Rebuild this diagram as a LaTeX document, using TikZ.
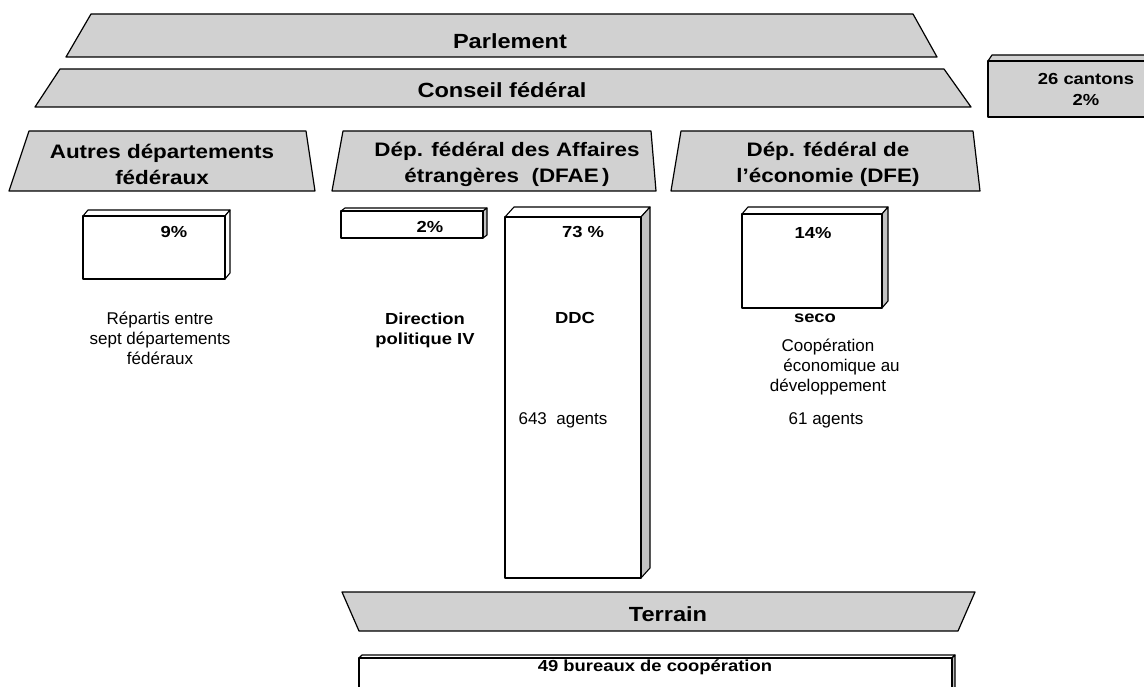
\documentclass[tikz,border=0pt]{standalone}
\usepackage{fontspec}
\setmainfont{Liberation Sans}
\newfontfamily\widefont{Liberation Sans}[FakeStretch=1.15]
\usetikzlibrary{positioning}
\definecolor{panel}{gray}{0.82}
\definecolor{side}{gray}{0.76}
\tikzset{
  band/.style={draw=black, fill=panel, line width=1.2pt, line join=round},
  face/.style={draw=black, fill=white, line width=1.1pt, line join=round},
  sideface/.style={draw=black, fill=side, line width=1.1pt, line join=round},
  bandtxt/.style={font=\widefont\bfseries\fontsize{20.5}{25}\selectfont, align=center},
  depttxt/.style={font=\widefont\bfseries\fontsize{19.5}{26}\selectfont, align=center},
  pcttxt/.style={font=\widefont\bfseries\fontsize{16}{20}\selectfont, align=center},
  bodytxt/.style={font=\fontsize{17}{20}\selectfont, align=center}
}

\begin{document}
\begin{tikzpicture}[x=1pt, y=-1pt]
      \useasboundingbox (0,0) rectangle (1144,687);
      \clip (0,0) rectangle (1144,687);
      % bands
      \draw[band] (91,14) -- (913,14) -- (937,57) -- (66,57) -- cycle;
      \node[bandtxt] (parl) at (510,41) {Parlement};
      \draw[band] (60,69) -- (944,69) -- (971,107) -- (35,107) -- cycle;
      \node[bandtxt] (cf) at (502,90) {Conseil fédéral};
      % cantons
      \draw[band] (988,61) -- (992,55) -- (1150,55) -- (1150,61) -- cycle;
      \draw[band] (988,61) rectangle (1150,117);
      \node[pcttxt, font=\widefont\bfseries\fontsize{16}{21}\selectfont] (cantons) at (1086,89) {26 cantons\\2\%};
      % departements
      \draw[band] (29,131) -- (306,131) -- (315,191) -- (9,191) -- cycle;
      \node[depttxt] (autres) at (162,164) {Autres départements\\fédéraux};
      \draw[band] (343,131) -- (651,131) -- (656,191) -- (332,191) -- cycle;
      \node[depttxt] (dfae) at (507,164) {Dép. fédéral des Affaires\\étrangères\ \ (DFAE\,)};
      \draw[band] (681,131) -- (973,131) -- (980,191) -- (671,191) -- cycle;
      \node[depttxt] (dfe) at (828,164) {Dép. fédéral de\\l’économie (DFE)};
      % boxes
      \draw[face] (83,216) -- (88,210) -- (230,210) -- (225,216) -- cycle;
      \draw[face] (225,216) -- (230,210) -- (230,273) -- (225,279) -- cycle;
      \draw[face] (83,216) rectangle (225,279);
      \node[pcttxt] (p9) at (174,232) {9\%};
      \draw[face] (341,211) -- (345,208) -- (487,208) -- (483,211) -- cycle;
      \draw[sideface] (483,211) -- (487,208) -- (487,235) -- (483,238) -- cycle;
      \draw[face] (341,211) rectangle (483,238);
      \node[pcttxt] (p2) at (430,227) {2\%};
      \draw[face] (505,217) -- (514,207) -- (650,207) -- (641,217) -- cycle;
      \draw[sideface] (641,217) -- (650,207) -- (650,568) -- (641,578) -- cycle;
      \draw[face] (505,217) rectangle (641,578);
      \node[pcttxt] (p73) at (583,232) {73 \%};
      \draw[face] (742,214) -- (748,207) -- (888,207) -- (882,214) -- cycle;
      \draw[sideface] (882,214) -- (888,207) -- (888,301) -- (882,308) -- cycle;
      \draw[face] (742,214) rectangle (882,308);
      \node[pcttxt] (p14) at (813,233) {14\%};
      % texts
      \node[bodytxt] (repartis) at (160,338) {Répartis entre\\sept départements\\fédéraux};
      \node[pcttxt] (dp4) at (425,330) {Direction\\politique IV};
      \node[pcttxt] (ddc) at (575,318) {DDC};
      \node[bodytxt] (ddcag) at (563,420) {643\ \ agents};
      \node[pcttxt] (seco) at (815,318) {seco};
      \node[bodytxt] (coop) at (828,367) {Coopération\\\hspace*{1.6em}économique au\\développement};
      \node[bodytxt] (secoag) at (826,420) {61 agents};
      % terrain
      \draw[band] (342,592) -- (975,592) -- (958,631) -- (359,631) -- cycle;
      \node[bandtxt] (terrain) at (668,614) {Terrain};
      \draw[face] (359,658) -- (362,655) -- (955,655) -- (952,658) -- cycle;
      \draw[sideface] (952,658) -- (955,655) -- (955,700) -- (952,700) -- cycle;
      \draw[face] (359,658) rectangle (952,700);
      \node[pcttxt] (bureaux) at (655,667) {49 bureaux de coopération};
\end{tikzpicture}
\end{document}
